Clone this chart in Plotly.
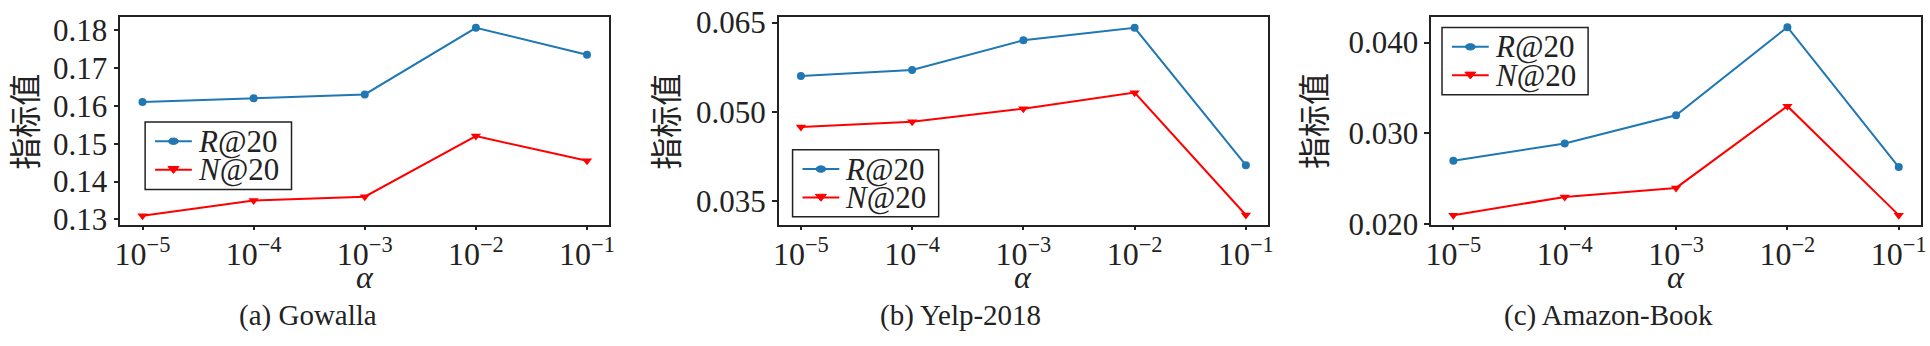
import plotly.graph_objects as go

# ---- data ----
alpha_labels = ["10<sup>−5</sup>", "10<sup>−4</sup>", "10<sup>−3</sup>", "10<sup>−2</sup>", "10<sup>−1</sup>"]
alpha_pos = [0, 1, 2, 3, 4]

gowalla_recall = [0.161, 0.162, 0.163, 0.1806, 0.1735]
gowalla_ndcg = [0.131, 0.135, 0.136, 0.152, 0.1455]

yelp_recall = [0.0560, 0.0570, 0.0620, 0.0641, 0.0410]
yelp_ndcg = [0.0474, 0.0483, 0.0505, 0.0532, 0.0326]

amazon_recall = [0.0270, 0.0289, 0.0320, 0.0417, 0.0263]
amazon_ndcg = [0.0210, 0.0230, 0.0240, 0.0330, 0.0210]

series_names = ["<i>R</i>@20", "<i>N</i>@20"]
captions = ["(a) Gowalla", "(b) Yelp-2018", "(c) Amazon-Book"]
y_ticks = [
    [0.13, 0.14, 0.15, 0.16, 0.17, 0.18],
    [0.035, 0.050, 0.065],
    [0.020, 0.030, 0.040],
]
y_fmt = [".2f", ".3f", ".3f"]
y_ranges = [[0.1285, 0.1834], [0.0309, 0.0659], [0.0199, 0.0428]]

# ---- layout geometry (pixels) ----
W, H = 1930, 346
frames = [(115, 607), (777.5, 1270), (1434, 1927)]
frame_top, frame_bottom = 6.7, 233
ylabel_x = [17.5, 662.5, 1314]
ylabel_y = 120
alpha_y = 289
caption_y = 331
caption_x = [304, 960, 1613]
legend_boxes = [(140, 120.7, 287.3, 194.3), (791.5, 151, 938.5, 224), (1445, 18, 1592, 91)]

SERIF = "Liberation Serif, Times New Roman, Noto Sans CJK SC, serif"
BLUE = "#1f77b4"
RED = "#ff0000"
FRAME = "#222222"
colors = [BLUE, RED]


def px(x):
    return x / W


def py(y):
    return (H - y) / H


fig = go.Figure()
series = [
    (gowalla_recall, gowalla_ndcg),
    (yelp_recall, yelp_ndcg),
    (amazon_recall, amazon_ndcg),
]

layout = dict(
    width=W, height=H,
    margin=dict(l=0, r=0, t=0, b=0),
    paper_bgcolor="white", plot_bgcolor="white",
    font=dict(family=SERIF, color="black"),
    showlegend=False,
    annotations=[], shapes=[],
)

for i, (rec, ndcg) in enumerate(series):
    n = i + 1
    xa = "x" if n == 1 else f"x{n}"
    ya = "y" if n == 1 else f"y{n}"
    fig.add_trace(go.Scatter(
        x=alpha_pos, y=rec, mode="lines+markers", name=series_names[0],
        line=dict(color=BLUE, width=2), marker=dict(symbol="circle", size=8, color=BLUE),
        xaxis=xa, yaxis=ya,
    ))
    fig.add_trace(go.Scatter(
        x=alpha_pos, y=ndcg, mode="lines+markers", name=series_names[1],
        line=dict(color=RED, width=2), marker=dict(symbol="triangle-down", size=9, color=RED),
        xaxis=xa, yaxis=ya,
    ))
    x0, x1 = frames[i]
    axis_common = dict(
        showline=True, linecolor=FRAME, linewidth=1.5, mirror=True,
        showgrid=False, zeroline=False, ticks="outside", tickcolor=FRAME,
        tickwidth=1.5, ticklabeloverflow="allow",
    )
    layout["xaxis" if n == 1 else f"xaxis{n}"] = dict(
        domain=[px(x0), px(x1)], anchor=ya, range=[-0.2, 4.2],
        tickmode="array", tickvals=alpha_pos, ticktext=alpha_labels,
        ticklen=3, ticklabelstandoff=-3,
        tickfont=dict(family=SERIF, size=32, color=FRAME),
        **axis_common,
    )
    layout["yaxis" if n == 1 else f"yaxis{n}"] = dict(
        domain=[py(frame_bottom), py(frame_top)], anchor=xa,
        range=y_ranges[i], tickmode="array", tickvals=y_ticks[i],
        tickformat=y_fmt[i], ticklen=5,
        tickfont=dict(family=SERIF, size=31, color=FRAME),
        **axis_common,
    )

    # legend drawn in paper coordinates so its box matches the reference size
    lx0, ly0, lx1, ly1 = legend_boxes[i]
    layout["shapes"].append(dict(
        type="rect", xref="paper", yref="paper",
        x0=px(lx0), x1=px(lx1), y0=py(ly1), y1=py(ly0),
        line=dict(color=FRAME, width=1.5), fillcolor="white", layer="above",
    ))
    for k in range(2):
        ry = ly0 + 21 + 31 * k
        c = colors[k]
        layout["shapes"].append(dict(
            type="line", xref="paper", yref="paper",
            x0=px(lx0 + 10), x1=px(lx0 + 47), y0=py(ry), y1=py(ry),
            line=dict(color=c, width=2), layer="above",
        ))
        mx = lx0 + 28.5
        if k == 0:
            layout["shapes"].append(dict(
                type="circle", xref="paper", yref="paper",
                x0=px(mx - 5), x1=px(mx + 5), y0=py(ry + 3.5), y1=py(ry - 3.5),
                line=dict(color=c, width=1), fillcolor=c, layer="above",
            ))
        else:
            path = "M {:.5f},{:.5f} L {:.5f},{:.5f} L {:.5f},{:.5f} Z".format(
                px(mx - 5.5), py(ry - 3.5), px(mx + 5.5), py(ry - 3.5), px(mx), py(ry + 4))
            layout["shapes"].append(dict(
                type="path", xref="paper", yref="paper", path=path,
                line=dict(color=c, width=1), fillcolor=c, layer="above",
            ))
        layout["annotations"].append(dict(
            text=series_names[k], x=px(lx0 + 51), y=py(ry), xref="paper", yref="paper",
            showarrow=False, xanchor="left", yanchor="middle",
            font=dict(family=SERIF, size=31, color=FRAME),
        ))

    cx = (x0 + x1) / 2
    layout["annotations"] += [
        dict(text="指标值", x=px(ylabel_x[i]), y=py(ylabel_y), xref="paper", yref="paper",
             showarrow=False, textangle=-90, xanchor="center", yanchor="middle",
             font=dict(family="Noto Sans CJK SC", size=32, color=FRAME)),
        dict(text="<i>α</i>", x=px(cx), y=py(alpha_y), xref="paper", yref="paper",
             showarrow=False, xanchor="center", yanchor="middle",
             font=dict(family=SERIF, size=32, color=FRAME)),
        dict(text=captions[i], x=px(caption_x[i]), y=py(caption_y), xref="paper", yref="paper",
             showarrow=False, xanchor="center", yanchor="middle",
             font=dict(family=SERIF, size=29, color=FRAME)),
    ]

fig.update_layout(**layout)
fig.write_html("out.html")
